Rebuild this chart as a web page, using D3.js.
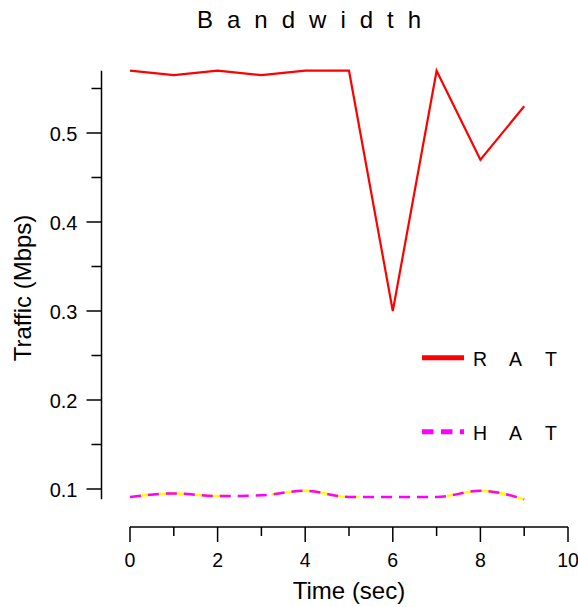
<!DOCTYPE html>
<html><head><meta charset="utf-8">
<script src="https://cdn.jsdelivr.net/npm/d3@7"></script>
<style>
html,body{margin:0;padding:0;background:#fff;}
svg{display:block;font-family:"Liberation Sans",Arial,Helvetica,sans-serif;}
</style></head>
<body>
<script>
const times = [0,1,2,3,4,5,6,7,8,9];
const ratValues = [0.570,0.565,0.570,0.565,0.570,0.570,0.300,0.570,0.470,0.530];
const hatValues = [0.091,0.095,0.092,0.093,0.098,0.091,0.091,0.091,0.098,0.0885];
const xTicks = [0,1,2,3,4,5,6,7,8,9,10];
const yTicks = [0.1,0.15,0.2,0.25,0.3,0.35,0.4,0.45,0.5,0.55];
const seriesNames = ["R A T","H A T"];
const titleText = "Bandwidth";

const W = 578, H = 607;
const svg = d3.select("body").append("svg").attr("width", W).attr("height", H);

const x = d3.scaleLinear().domain([0,10]).range([130,568]);
const yMin = d3.min(hatValues.concat(ratValues)), yMax = d3.max(hatValues.concat(ratValues));
const y = d3.scaleLinear().domain([0.1,0.5]).range([489,133]);
const yTop = y(yMax), yBot = y(yMin);

// title
svg.append("text").attr("x",197).attr("y",28).attr("font-size",24)
  .attr("letter-spacing","14px").attr("fill","#000").text(titleText);

// x axis
const xg = svg.append("g").attr("transform","translate(0,527)");
xg.append("line").attr("x1",x(0)).attr("x2",x(10)).attr("stroke","#000").attr("stroke-width",1.5);
xg.selectAll("line.t").data(xTicks).join("line").attr("class","t")
  .attr("x1",d=>x(d)).attr("x2",d=>x(d)).attr("y1",0).attr("y2",d=>d%2===0?15:9)
  .attr("stroke","#000").attr("stroke-width",1.5);
xg.selectAll("text").data(xTicks.filter(d=>d%2===0)).join("text")
  .attr("x",d=>x(d)).attr("y",40).attr("text-anchor","middle").attr("font-size",19.5).text(d=>d);

// y axis
const yg = svg.append("g").attr("transform","translate(101.5,0)");
yg.append("line").attr("y1",yTop).attr("y2",yBot).attr("stroke","#000").attr("stroke-width",1.5);
const isMajor = d => Math.abs(Math.round(d*10)-d*10) < 1e-6;
yg.selectAll("line.t").data(yTicks).join("line").attr("class","t")
  .attr("y1",d=>y(d)).attr("y2",d=>y(d)).attr("x1",d=>isMajor(d)?-15:-10).attr("x2",0)
  .attr("stroke","#000").attr("stroke-width",1.5);
yg.selectAll("text").data(yTicks.filter(isMajor)).join("text")
  .attr("x",-24).attr("y",d=>y(d)+7.5).attr("text-anchor","end").attr("font-size",20)
  .text(d=>d3.format(".1f")(d));

// axis labels
svg.append("text").attr("x",349).attr("y",599).attr("text-anchor","middle").attr("font-size",24).text("Time (sec)");
svg.append("text").attr("transform","translate(31,288) rotate(-90)").attr("text-anchor","middle").attr("font-size",24).text("Traffic (Mbps)");

// RAT line
const ratLine = d3.line().x((d,i)=>x(times[i])).y(d=>y(d));
svg.append("path").attr("d",ratLine(ratValues)).attr("fill","none").attr("stroke","#ff0000").attr("stroke-width",2.2);

// HAT curve
const hatLine = d3.line().x((d,i)=>x(times[i])).y(d=>y(d)).curve(d3.curveMonotoneX);
const clip = svg.append("defs").append("clipPath").attr("id","slopeClip");
d3.pairs(times.map((t,i)=>[t,hatValues[i]])).forEach(([a,b])=>{
  if (Math.abs(a[1]-b[1]) > 0.002) {
    clip.append("rect").attr("x",x(a[0])+10).attr("width",x(b[0])-x(a[0])).attr("y",0).attr("height",H);
  }
});
svg.append("path").attr("d",hatLine(hatValues)).attr("fill","none").attr("stroke","#ffff00")
  .attr("stroke-width",2.5).attr("clip-path","url(#slopeClip)");
svg.append("path").attr("d",hatLine(hatValues)).attr("fill","none").attr("stroke","#ff00ff")
  .attr("stroke-width",2.5).attr("stroke-dasharray","11,7");

// legend
const legend = [
  {name:seriesNames[0], color:"#ff0000", dash:null, ly:357.7, ty:366},
  {name:seriesNames[1], color:"#ff00ff", dash:"11.5,7.5", ly:431.7, ty:440}
];
legend.forEach(l=>{
  svg.append("line").attr("x1",422).attr("x2",464).attr("y1",l.ly).attr("y2",l.ly)
    .attr("stroke",l.color).attr("stroke-width",5).attr("stroke-dasharray",l.dash);
  const t = svg.append("text").attr("y",l.ty).attr("font-size",19.5);
  l.name.split(" ").forEach((c,i)=>{
    t.append("tspan").attr("x",473+i*36).text(c);
  });
});
</script>
</body></html>
